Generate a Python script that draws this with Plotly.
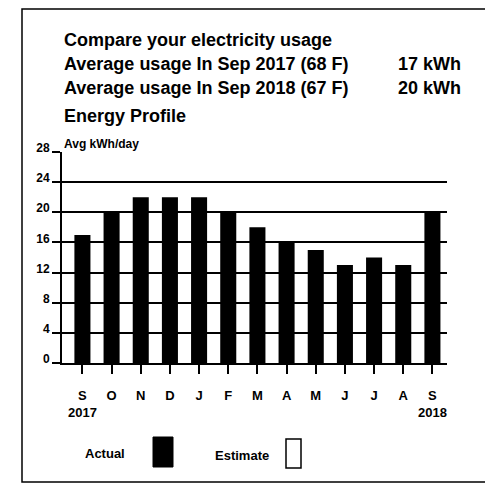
import plotly.graph_objects as go

# chart data
month_pos = list(range(13))
month_letters = ["S", "O", "N", "D", "J", "F", "M", "A", "M", "J", "J", "A", "S"]
year_labels = ["2017", "", "", "", "", "", "", "", "", "", "", "", "2018"]
usage = [17, 20, 22, 22, 22, 20, 18, 16, 15, 13, 14, 13, 20]
y_ticks = [0, 4, 8, 12, 16, 20, 24, 28]

header_lines = [
    "Compare your electricity usage",
    "Average usage In Sep 2017 (68 F)",
    "Average usage In Sep 2018 (67 F)",
]
header_values = ["", "17 kWh", "20 kWh"]

# page body has an 8px margin, so the figure starts at (8, 8) in the window
OFF = 8
W, H = 485, 479
PL, PR, PT, PB = 62, 447, 152, 363   # plot area in window pixels
FONT = "Liberation Sans, Arial, sans-serif"


def px(x):
    return (x - PL) / (PR - PL)


def py(y):
    return (PB - y) / (PB - PT)


tick_text = [m + "<br>" + y if y else m for m, y in zip(month_letters, year_labels)]

fig = go.Figure()
fig.add_trace(go.Bar(x=month_pos, y=usage, marker=dict(color="black", line=dict(width=0)),
                     width=0.55, name="Actual", showlegend=False))

fig.update_layout(
    width=W, height=H,
    margin=dict(l=PL - OFF, r=W + OFF - PR, t=PT - OFF, b=H + OFF - PB),
    paper_bgcolor="white", plot_bgcolor="white",
    font=dict(family=FONT, color="black", weight="bold"),
    xaxis=dict(range=[-0.7, 12.5], tickvals=month_pos, ticktext=tick_text,
               ticks="outside", ticklen=9, tickwidth=2, tickcolor="black",
               showline=True, linecolor="black", linewidth=2, showgrid=False,
               tickfont=dict(size=13, family=FONT, weight="bold"), zeroline=False,
               ticklabelstandoff=10),
    yaxis=dict(range=[0, 28], tickvals=y_ticks, ticks="outside", ticklen=8, tickwidth=1.5,
               tickcolor="black", showline=True, linecolor="black", linewidth=2,
               showgrid=True, gridcolor="black", gridwidth=1.5, zeroline=False,
               tickfont=dict(size=12, family=FONT, weight="bold"),
               ticklabelshift=-4, ticklabelstandoff=0),
)

ann = []
ys = [40, 64, 88]
for i, t in enumerate(header_lines):
    ann.append(dict(x=px(62), y=py(ys[i]), text=t, xanchor="left", yanchor="middle",
                    font=dict(size=18, family=FONT, weight="bold")))
    if header_values[i]:
        ann.append(dict(x=px(463), y=py(ys[i]), text=header_values[i], xanchor="right",
                        yanchor="middle", font=dict(size=18, family=FONT, weight="bold")))
ann.append(dict(x=px(62), y=py(116), text="Energy Profile", xanchor="left", yanchor="middle",
                font=dict(size=18, family=FONT, weight="bold")))
ann.append(dict(x=px(62), y=py(144), text="Avg kWh/day", xanchor="left", yanchor="middle",
                font=dict(size=12, family=FONT, weight="bold")))
ann.append(dict(x=px(105), y=py(453), text="Actual", xanchor="center", yanchor="middle",
                font=dict(size=13, family=FONT, weight="bold")))
ann.append(dict(x=px(242), y=py(455), text="Estimate", xanchor="center", yanchor="middle",
                font=dict(size=13, family=FONT, weight="bold")))
for a in ann:
    a.update(xref="paper", yref="paper", showarrow=False)
fig.update_layout(annotations=ann)

shapes = [
    # outer frame
    dict(type="rect", x0=px(22), x1=px(487), y0=py(482), y1=py(9),
         line=dict(color="black", width=1.5)),
    # legend swatches
    dict(type="rect", x0=px(153), x1=px(173), y0=py(467), y1=py(437),
         fillcolor="black", line=dict(color="black", width=1)),
    dict(type="rect", x0=px(286), x1=px(301), y0=py(468), y1=py(439),
         fillcolor="white", line=dict(color="black", width=1.5)),
]
for s in shapes:
    s.update(xref="paper", yref="paper")
fig.update_layout(shapes=shapes)

fig.write_html("out.html")
